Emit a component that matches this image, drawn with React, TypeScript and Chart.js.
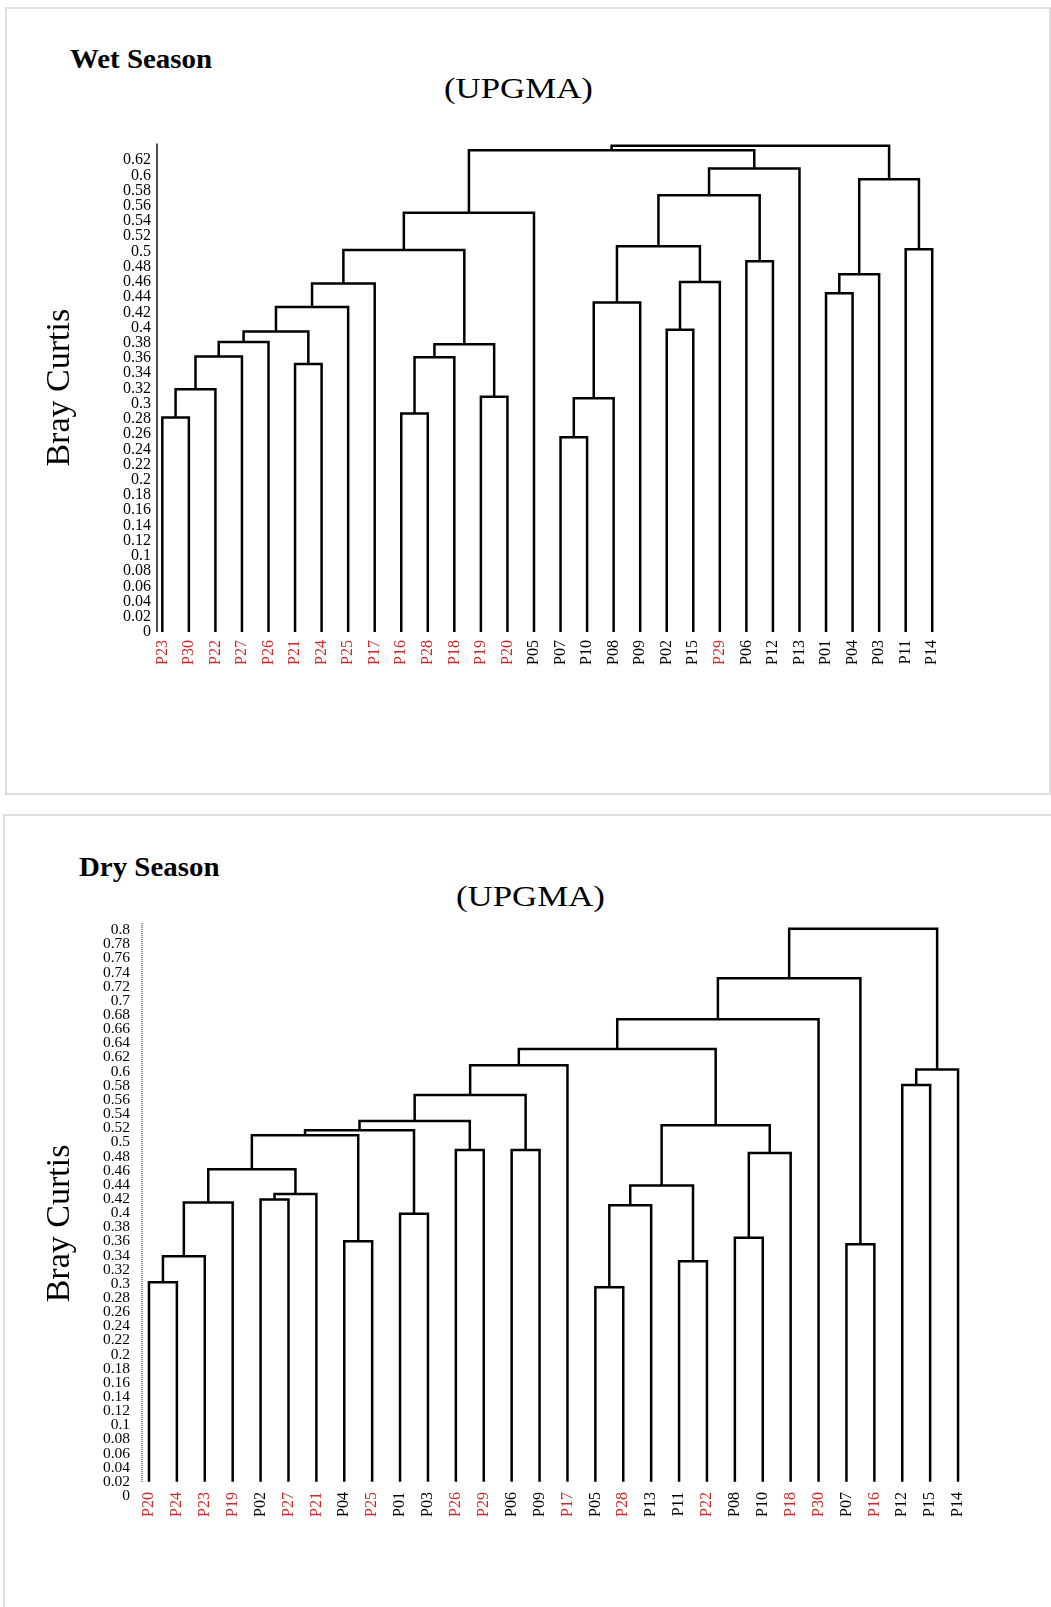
import React, { useEffect, useRef } from "react";
import { Chart, registerables } from "chart.js";

Chart.register(...registerables);

const FONT = '"Liberation Serif", "Times New Roman", Times, serif';
const RED = "#cc2a2a";

// ---------------- Wet season ----------------
const WET_LEAVES = [
  "P23", "P30", "P22", "P27", "P26", "P21", "P24", "P25", "P17", "P16",
  "P28", "P18", "P19", "P20", "P05", "P07", "P10", "P08", "P09", "P02",
  "P15", "P29", "P06", "P12", "P13", "P01", "P04", "P03", "P11", "P14",
];
const WET_RED = [
  "P23", "P30", "P22", "P27", "P26", "P21", "P24", "P25", "P17", "P16",
  "P28", "P18", "P19", "P20", "P29",
];
// each merge joins two nodes: a leaf name or the index of an earlier merge
const WET_MERGES: [string | number, string | number][] = [
  ["P23", "P30"], [0, "P22"], [1, "P27"], [2, "P26"], ["P21", "P24"],
  [3, 4], [5, "P25"], [6, "P17"], ["P16", "P28"], [8, "P18"],
  ["P19", "P20"], [9, 10], [7, 11], [12, "P05"], ["P07", "P10"],
  [14, "P08"], [15, "P09"], ["P02", "P15"], [17, "P29"], [16, 18],
  ["P06", "P12"], [19, 20], [21, "P13"], ["P01", "P04"], [23, "P03"],
  ["P11", "P14"], [24, 25], [13, 22], [27, 26],
];
const WET_HEIGHTS = [
  0.282, 0.319, 0.362, 0.381, 0.352,
  0.395, 0.427, 0.458, 0.287, 0.361,
  0.309, 0.378, 0.502, 0.551, 0.256,
  0.307, 0.433, 0.397, 0.46, 0.507,
  0.487, 0.574, 0.609, 0.445, 0.47,
  0.503, 0.595, 0.633, 0.639,
];
const WET_Y_TICKS = [
  0, 0.02, 0.04, 0.06, 0.08, 0.1, 0.12, 0.14, 0.16, 0.18, 0.2, 0.22, 0.24,
  0.26, 0.28, 0.3, 0.32, 0.34, 0.36, 0.38, 0.4, 0.42, 0.44, 0.46, 0.48, 0.5,
  0.52, 0.54, 0.56, 0.58, 0.6, 0.62,
];
const WET_LEAF_BASE = 0;
const WET_AXIS_TOP = 0.642;

// ---------------- Dry season ----------------
const DRY_LEAVES = [
  "P20", "P24", "P23", "P19", "P02", "P27", "P21", "P04", "P25", "P01",
  "P03", "P26", "P29", "P06", "P09", "P17", "P05", "P28", "P13", "P11",
  "P22", "P08", "P10", "P18", "P30", "P07", "P16", "P12", "P15", "P14",
];
const DRY_RED = [
  "P20", "P24", "P23", "P19", "P27", "P21", "P25", "P26", "P29", "P17",
  "P28", "P22", "P18", "P30", "P16",
];
const DRY_MERGES: [string | number, string | number][] = [
  ["P20", "P24"], [0, "P23"], [1, "P19"], ["P02", "P27"], [3, "P21"],
  [2, 4], ["P04", "P25"], [5, 6], ["P01", "P03"], [7, 8],
  ["P26", "P29"], [9, 10], ["P06", "P09"], [11, 12], [13, "P17"],
  ["P05", "P28"], [15, "P13"], ["P11", "P22"], [16, 17], ["P08", "P10"],
  [19, "P18"], [18, 20], [14, 21], [22, "P30"], ["P07", "P16"],
  [23, 24], ["P12", "P15"], [26, "P14"], [25, 27],
];
const DRY_HEIGHTS = [
  0.302, 0.339, 0.415, 0.419, 0.427,
  0.462, 0.36, 0.51, 0.399, 0.517,
  0.489, 0.53, 0.489, 0.567, 0.609,
  0.295, 0.411, 0.332, 0.439, 0.365,
  0.485, 0.524, 0.632, 0.674, 0.356,
  0.732, 0.581, 0.603, 0.802,
];
const DRY_Y_TICKS = [
  0, 0.02, 0.04, 0.06, 0.08, 0.1, 0.12, 0.14, 0.16, 0.18, 0.2, 0.22, 0.24,
  0.26, 0.28, 0.3, 0.32, 0.34, 0.36, 0.38, 0.4, 0.42, 0.44, 0.46, 0.48, 0.5,
  0.52, 0.54, 0.56, 0.58, 0.6, 0.62, 0.64, 0.66, 0.68, 0.7, 0.72, 0.74, 0.76,
  0.78, 0.8,
];
const DRY_LEAF_BASE = 0.02;
const DRY_AXIS_TOP = 0.81;

function buildSegments(leaves: string[], merges: any[], heights: number[], base: number) {
  const idx: Record<string, number> = {};
  leaves.forEach((l, i) => (idx[l] = i));
  const nodeX: number[] = [];
  const gx = (n: any) => (typeof n === "number" ? nodeX[n] : idx[n]);
  const gy = (n: any) => (typeof n === "number" ? heights[n] : base);
  return merges.map(([a, b]: any, k: number) => {
    const xa = gx(a);
    const xb = gx(b);
    const h = heights[k];
    nodeX[k] = (xa + xb) / 2;
    return [
      { x: xa, y: gy(a) },
      { x: xa, y: h },
      { x: xb, y: h },
      { x: xb, y: gy(b) },
    ];
  });
}

function Dendrogram(props: any) {
  const ref = useRef<HTMLCanvasElement | null>(null);
  const p = props;
  useEffect(() => {
    if (!ref.current) return;
    const segs = buildSegments(p.leaves, p.merges, p.heights, p.leafBase);
    const datasets: any[] = segs.map((s: any) => ({
      data: s,
      showLine: true,
      borderColor: "#000",
      borderWidth: 2.5,
      pointRadius: 0,
      pointHoverRadius: 0,
      fill: false,
      tension: 0,
      borderJoinStyle: "miter",
      borderCapStyle: "butt",
      clip: false,
    }));
    datasets.push({
      data: [
        { x: p.xMin, y: p.axisBase },
        { x: p.xMin, y: p.axisTop },
      ],
      showLine: true,
      borderColor: p.axisColor,
      borderWidth: p.axisWidth,
      borderDash: p.axisDash,
      pointRadius: 0,
      pointHoverRadius: 0,
      fill: false,
      clip: false,
    });
    const shiftTitle = {
      id: "shiftTitle",
      afterLayout(chart: any) {
        const y = chart.scales.y;
        y.top += p.titleShift;
        y.bottom += p.titleShift;
      },
    };
    const chart = new Chart(ref.current, {
      type: "scatter",
      data: { datasets },
      plugins: [shiftTitle],
      options: {
        animation: false,
        responsive: false,
        devicePixelRatio: 1,
        events: [],
        layout: { padding: p.padding },
        plugins: {
          legend: { display: false },
          tooltip: { enabled: false },
          title: { display: false },
        },
        scales: {
          x: {
            type: "linear",
            min: p.xMin,
            max: p.xMax,
            grid: { display: false, drawTicks: false },
            border: { display: false },
            afterBuildTicks: (s: any) => {
              s.ticks = p.leaves.map((_: string, i: number) => ({ value: i }));
            },
            afterFit: (s: any) => {
              s.height = p.xAxisHeight;
              s._computeLabelArea = () => undefined;
            },
            ticks: {
              autoSkip: false,
              minRotation: 90,
              maxRotation: 90,
              padding: p.xTickPadding,
              font: { family: FONT, size: 16 },
              color: (ctx: any) =>
                p.red.includes(p.leaves[ctx.index]) ? RED : "#000",
              callback: (v: any) => p.leaves[Math.round(Number(v))],
            },
          },
          y: {
            type: "linear",
            min: 0,
            max: p.yMax,
            grid: { display: false, drawTicks: false },
            border: { display: false },
            afterBuildTicks: (s: any) => {
              s.ticks = p.yTicks.map((v: number) => ({ value: v }));
            },
            afterFit: (s: any) => {
              s.width = p.yAxisWidth;
            },
            ticks: {
              autoSkip: false,
              padding: p.yTickPadding,
              font: { family: FONT, size: p.yTickSize, lineHeight: 1 },
              color: "#000",
              callback: (v: any) => String(Number(Number(v).toFixed(2))),
            },
            title: {
              display: true,
              text: "Bray Curtis",
              color: "#000",
              font: { family: FONT, size: 34 },
              padding: { top: 9.6, bottom: 0 },
            },
          },
        },
      } as any,
    });
    return () => chart.destroy();
  }, []);
  return (
    <canvas
      ref={ref}
      width={p.width}
      height={p.height}
      style={{ position: "absolute", left: 0, top: p.top }}
    />
  );
}

function Label(props: any) {
  return (
    <div
      style={{
        position: "absolute",
        left: props.left,
        top: props.top,
        fontFamily: FONT,
        fontSize: props.size,
        fontWeight: props.bold ? 700 : 400,
        lineHeight: "1",
        whiteSpace: "nowrap",
        color: "#000",
        transform: `scaleX(${props.sx})`,
        transformOrigin: "left top",
      }}
    >
      {props.text}
    </div>
  );
}

export default function App() {
  return (
    <div
      style={{
        position: "absolute",
        left: 0,
        top: 0,
        width: 1051,
        height: 1607,
        overflow: "hidden",
        background: "#fff",
      }}
    >
      <div
        style={{
          position: "absolute",
          left: 5,
          top: 7,
          width: 1046,
          height: 788,
          border: "2px solid #dedede",
          boxSizing: "border-box",
        }}
      />
      <div
        style={{
          position: "absolute",
          left: 3,
          top: 814,
          width: 1100,
          height: 900,
          border: "2px solid #dedede",
          boxSizing: "border-box",
        }}
      />
      <Label text="Wet Season" left={70} top={46.4} size={27} bold sx={1.07} />
      <Label text="(UPGMA)" left={444} top={73.2} size={30} sx={1.16} />
      <Label text="Dry Season" left={78.5} top={854.4} size={27} bold sx={1.07} />
      <Label text="(UPGMA)" left={455.5} top={880.9} size={30} sx={1.16} />
      <Dendrogram
        top={0}
        width={1000}
        height={720}
        leaves={WET_LEAVES}
        red={WET_RED}
        merges={WET_MERGES}
        heights={WET_HEIGHTS}
        leafBase={WET_LEAF_BASE}
        yTicks={WET_Y_TICKS}
        yMax={WET_AXIS_TOP}
        xMin={-0.2}
        xMax={29.5}
        axisBase={0}
        axisTop={WET_AXIS_TOP}
        axisColor="#111"
        axisWidth={1.5}
        axisDash={[]}
        padding={{ left: 30, top: 143.4, right: 54.5, bottom: 48 }}
        yAxisWidth={127}
        xAxisHeight={40}
        yTickPadding={6}
        yTickSize={16}
        xTickPadding={8}
        titleShift={0}
      />
      <Dendrogram
        top={800}
        width={1000}
        height={807}
        leaves={DRY_LEAVES}
        red={DRY_RED}
        merges={DRY_MERGES}
        heights={DRY_HEIGHTS}
        leafBase={DRY_LEAF_BASE}
        yTicks={DRY_Y_TICKS}
        yMax={DRY_AXIS_TOP}
        xMin={-0.25}
        xMax={29.5}
        axisBase={DRY_LEAF_BASE}
        axisTop={DRY_AXIS_TOP}
        axisColor="#333"
        axisWidth={1.2}
        axisDash={[1, 1]}
        padding={{ left: 30, top: 123, right: 28, bottom: 81 }}
        yAxisWidth={112}
        xAxisHeight={30}
        yTickPadding={12}
        yTickSize={15.5}
        xTickPadding={-4}
        titleShift={14}
      />
    </div>
  );
}
